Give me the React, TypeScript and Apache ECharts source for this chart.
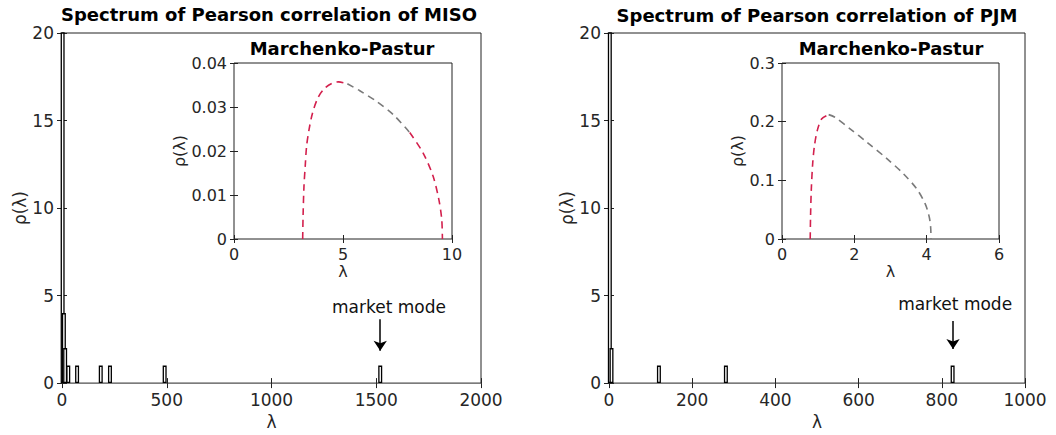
import React, { useEffect, useRef } from "react";
import * as echarts from "echarts";

// ---------- data ----------
const misoBinCenters = [3, 9, 15, 30, 72, 185, 229, 490, 1519];
const misoBinCounts = [60, 4, 2, 1, 1, 1, 1, 1, 1];
const pjmBinCenters = [2, 6, 120, 281, 826];
const pjmBinCounts = [60, 2, 1, 1, 1];

const misoXTicks = { min: 0, max: 2000, interval: 500 };
const pjmXTicks = { min: 0, max: 1000, interval: 200 };
const mainYTicks = { min: 0, max: 20, interval: 5 };

const mpMisoLambda = [3.15, 3.17, 3.21, 3.27, 3.33, 3.44, 3.6, 3.86, 4.17, 4.5, 4.8, 5.2, 5.77, 6.53, 7.3, 8.06, 8.67, 9.13, 9.4, 9.53, 9.56];
const mpMisoRho = [0, 0.0055, 0.012, 0.0168, 0.0211, 0.0248, 0.0286, 0.0322, 0.0343, 0.0354, 0.0357, 0.0353, 0.0337, 0.0313, 0.0283, 0.0242, 0.0196, 0.0143, 0.0089, 0.0044, 0];
// index ranges of the dashed curve drawn in red / gray
const misoRedA = [0, 12];
const misoGray = [11, 16];
const misoRedB = [15, 21];
const mpPjmLambda = [0.78, 0.79, 0.81, 0.85, 0.9, 0.98, 1.1, 1.29, 1.45, 1.9, 2.35, 2.9, 3.36, 3.73, 3.96, 4.07, 4.11, 4.12];
const mpPjmRho = [0, 0.04, 0.084, 0.13, 0.16, 0.186, 0.205, 0.212, 0.208, 0.187, 0.165, 0.137, 0.111, 0.085, 0.06, 0.038, 0.02, 0];
const pjmRed = [0, 8];
const pjmGray = [7, 18];

const misoInsetX = { min: 0, max: 10, interval: 5 };
const misoInsetY = { min: 0, max: 0.04, interval: 0.01 };
const pjmInsetX = { min: 0, max: 6, interval: 2 };
const pjmInsetY = { min: 0, max: 0.3, interval: 0.1 };

const misoMarket = { lambda: 1519, arrowTop: 3.65, arrowBottom: 1.85, labelLambda: 1561, labelRho: 4.33 };
const pjmMarket = { lambda: 827, arrowTop: 3.55, arrowBottom: 1.95, labelLambda: 832, labelRho: 4.5 };

const titles = ["Spectrum of Pearson correlation of MISO", "Spectrum of Pearson correlation of PJM"];
const insetTitle = "Marchenko-Pastur";

// ---------- styling ----------
const FONT = "DejaVu Sans";
const AX = "#222";
const TXT = "#262626";
const RED = "#d3204d";
const GRAY = "#7a7a7a";

const fmt = (v: number) => String(+(+v).toFixed(3));

function axisPair(kind: "x" | "y", gridIndex: number, t: any, opts: any) {
  const base = {
    type: "value",
    gridIndex,
    min: t.min,
    max: t.max,
    interval: t.interval,
    splitLine: { show: false },
    axisLine: { show: false },
  };
  const main = {
    ...base,
    position: kind === "x" ? "bottom" : "left",
    axisTick: { show: true, inside: true, length: opts.tickLen, lineStyle: { color: AX, width: 1 } },
    axisLabel: {
      show: true,
      fontFamily: FONT,
      fontSize: opts.fontSize,
      color: TXT,
      margin: opts.margin,
      formatter: fmt,
      showMinLabel: true,
      showMaxLabel: true,
    },
    name: kind === "x" ? "λ" : "ρ(λ)",
    nameLocation: "middle",
    nameGap: opts.nameGap,
    nameTextStyle: { fontFamily: FONT, fontSize: opts.nameSize, color: TXT },
  };
  const twin = {
    ...base,
    position: kind === "x" ? "top" : "right",
    axisTick: { show: true, inside: true, length: opts.tickLen, lineStyle: { color: AX, width: 1 } },
    axisLabel: { show: false },
  };
  return [main, twin];
}

function barSeries(xi: number, yi: number, xs: number[], ys: number[]) {
  return {
    type: "bar",
    xAxisIndex: xi,
    yAxisIndex: yi,
    data: xs.map((x, i) => [x, ys[i]]),
    barWidth: 4,
    clip: true,
    itemStyle: { color: "#fff", borderColor: "#000", borderWidth: 1.3 },
    silent: true,
  };
}

function marketSeries(xi: number, yi: number, m: any) {
  return {
    type: "scatter",
    xAxisIndex: xi,
    yAxisIndex: yi,
    data: [],
    symbolSize: 0,
    silent: true,
    markLine: {
      silent: true,
      animation: false,
      symbol: ["none", "arrow"],
      symbolSize: 10,
      label: { show: false },
      lineStyle: { color: "#000", width: 1.5, type: "solid" },
      data: [[{ coord: [m.lambda, m.arrowTop] }, { coord: [m.lambda, m.arrowBottom] }]],
    },
    markPoint: {
      silent: true,
      animation: false,
      data: [
        {
          coord: [m.labelLambda, m.labelRho],
          symbol: "rect",
          symbolSize: 1,
          itemStyle: { color: "rgba(0,0,0,0)" },
          label: {
            show: true,
            position: "inside",
            formatter: "market mode",
            fontFamily: FONT,
            fontSize: 17,
            color: "#111",
          },
        },
      ],
    },
  };
}

function lineSeries(xi: number, yi: number, xs: number[], ys: number[], range: number[], color: string) {
  const data = [];
  for (let i = range[0]; i < range[1]; i++) data.push([xs[i], ys[i]]);
  return {
    type: "line",
    xAxisIndex: xi,
    yAxisIndex: yi,
    data,
    showSymbol: false,
    symbol: "none",
    smooth: 0.3,
    silent: true,
    lineStyle: { color, width: 1.6, type: [7, 5] },
  };
}

export default function App() {
  const ref = useRef<HTMLDivElement>(null);
  useEffect(() => {
    if (!ref.current) return;
    const chart = echarts.init(ref.current, undefined, { renderer: "svg" });

    const mainOpts = { tickLen: 5, fontSize: 17, margin: 8, nameSize: 17 };
    const insetOpts = { tickLen: 4, fontSize: 16, margin: 7, nameSize: 16 };

    const [x0, x0t] = axisPair("x", 0, misoXTicks, { ...mainOpts, nameGap: 27 });
    const [y0, y0t] = axisPair("y", 0, mainYTicks, { ...mainOpts, nameGap: 34 });
    const [x1, x1t] = axisPair("x", 1, pjmXTicks, { ...mainOpts, nameGap: 27 });
    const [y1, y1t] = axisPair("y", 1, mainYTicks, { ...mainOpts, nameGap: 27 });
    const [x2, x2t] = axisPair("x", 2, misoInsetX, { ...insetOpts, nameGap: 24 });
    const [y2, y2t] = axisPair("y", 2, misoInsetY, { ...insetOpts, nameGap: 33 });
    const [x3, x3t] = axisPair("x", 3, pjmInsetX, { ...insetOpts, nameGap: 24 });
    const [y3, y3t] = axisPair("y", 3, pjmInsetY, { ...insetOpts, nameGap: 31 });

    const gridBase = { show: true, borderColor: AX, borderWidth: 1, backgroundColor: "#fff", containLabel: false };

    chart.setOption({
      animation: false,
      backgroundColor: "#fff",
      textStyle: { fontFamily: FONT },
      grid: [
        { ...gridBase, left: 62, top: 33, width: 419, height: 351 },
        { ...gridBase, left: 609, top: 33, width: 416, height: 351 },
        { ...gridBase, left: 234, top: 63, width: 218, height: 176 },
        { ...gridBase, left: 782, top: 63, width: 217, height: 176 },
      ],
      xAxis: [x0, x0t, x1, x1t, x2, x2t, x3, x3t],
      yAxis: [y0, y0t, y1, y1t, y2, y2t, y3, y3t],
      series: [
        barSeries(0, 0, misoBinCenters, misoBinCounts),
        barSeries(2, 2, pjmBinCenters, pjmBinCounts),
        marketSeries(0, 0, misoMarket),
        marketSeries(2, 2, pjmMarket),
        lineSeries(4, 4, mpMisoLambda, mpMisoRho, misoGray, GRAY),
        lineSeries(4, 4, mpMisoLambda, mpMisoRho, misoRedA, RED),
        lineSeries(4, 4, mpMisoLambda, mpMisoRho, misoRedB, RED),
        lineSeries(6, 6, mpPjmLambda, mpPjmRho, pjmGray, GRAY),
        lineSeries(6, 6, mpPjmLambda, mpPjmRho, pjmRed, RED),
      ],
      graphic: [
        {
          type: "text",
          x: 269,
          y: 14,
          style: { text: titles[0], fill: "#000", font: `bold 18px "${FONT}"`, textAlign: "center", textVerticalAlign: "middle" },
        },
        {
          type: "text",
          x: 817,
          y: 15,
          style: { text: titles[1], fill: "#000", font: `bold 18px "${FONT}"`, textAlign: "center", textVerticalAlign: "middle" },
        },
        {
          type: "text",
          x: 342,
          y: 48,
          z: 100,
          style: { text: insetTitle, fill: "#000", font: `bold 18px "${FONT}"`, textAlign: "center", textVerticalAlign: "middle" },
        },
        {
          type: "text",
          x: 891,
          y: 48,
          z: 100,
          style: { text: insetTitle, fill: "#000", font: `bold 18px "${FONT}"`, textAlign: "center", textVerticalAlign: "middle" },
        },
      ],
    });
    return () => chart.dispose();
  }, []);
  return (
    <div
      ref={ref}
      style={{ position: "absolute", left: 0, top: 0, width: 1056, height: 435, background: "#fff" }}
    />
  );
}
